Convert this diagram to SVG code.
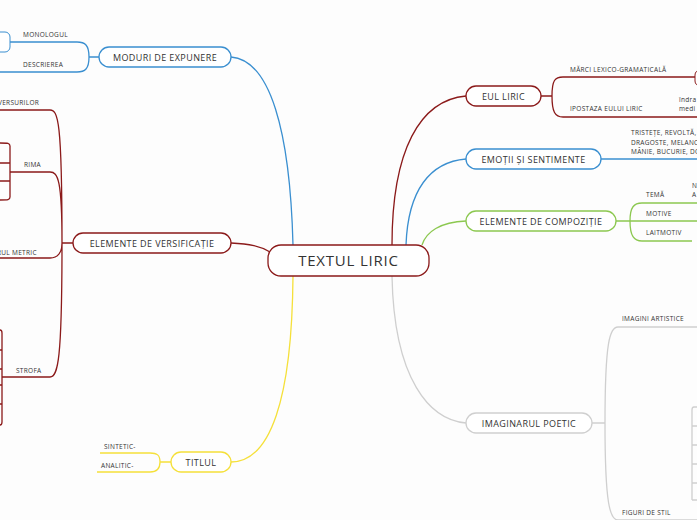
<svg xmlns="http://www.w3.org/2000/svg" width="697" height="520" viewBox="0 0 697 520">
<style>
text{font-family:"Open Sans","Noto Sans",sans-serif;fill:#333}
.m{font-size:9px;letter-spacing:0.4px}
.s{font-size:6.5px;letter-spacing:0.3px}
.c{font-size:15px;letter-spacing:0.8px}
.n{fill:#fff;stroke-width:1.3}
path{fill:none;stroke-width:1.3}
.b{stroke:#3a8fd0}.r{stroke:#8b1a1a}.y{stroke:#f5e03a}.g{stroke:#8cc850}.k{stroke:#cfcfcf}
</style>
<rect width="697" height="520" fill="#fdfdfd"/>
<g id="connectors">
<path class="b" d="M293,245 C290,130 270,60 231,57"/>
<path class="r" d="M270,252 C260,246 250,244 231,243"/>
<path class="y" d="M293,276 C292,400 270,462 231,462"/>
<path class="r" d="M392,245 C392,150 420,100 466,96"/>
<path class="b" d="M406,245 C408,190 430,162 466,159"/>
<path class="g" d="M422,245 C426,232 440,222 466,221"/>
<path class="k" d="M392,276 C394,380 430,420 466,423"/>
<!-- moduri -->
<path class="b" d="M99,57 H89 M89,57 C89,45 85,42 77,42 H10 M89,57 C89,69 85,72 77,72 H0"/>
<rect class="b" x="-10" y="32" width="20" height="20" rx="5" fill="#fff"/>
<!-- versificatie -->
<path class="r" d="M73,243 H62 M62,243 C62,120 58,110 50,110 H0 M62,243 C62,180 58,172 50,172 H10 M62,243 C62,252 58,258 50,258 H0 M62,243 C62,360 58,377 50,377 H2"/>
<path class="r" d="M10,172 V146 C10,143 8,143 0,143 M10,163 H0 M10,172 V197 C10,200 8,200 0,200 M10,181 H0"/>
<path class="r" d="M2,377 V333 C2,330 1,330 0,330 M2,377 V422 C2,425 1,425 0,425 M0,350 H2 M0,369 H2 M0,385 H2 M0,404 H2"/>
<!-- titlul -->
<path class="y" d="M171,462 H160 M160,462 C160,455 157,453 150,453 H100 M160,462 C160,469 157,472 150,472 H97"/>
<!-- eul liric -->
<path class="r" d="M541,96 H552 M552,96 C552,80 555,77 563,77 H695 M552,96 C552,112 555,117 563,117 H697"/>
<rect class="r" x="695" y="70" width="20" height="16" rx="5" fill="#fff"/>
<path class="b" d="M601,159 H697"/>
<!-- compozitie -->
<path class="g" d="M616,221 H630 M630,221 C630,207 634,203 642,203 H697 M630,221 H697 M630,221 C630,236 634,241 642,241 H692"/>
<!-- imaginar -->
<path class="k" d="M592,423 H605 M605,423 C605,340 610,327 618,327 H697 M605,423 C605,505 610,520 618,520 H697"/>
<path class="k" d="M697,407 H694 C693,407 692,408 692,410 V500 M692,426 H697 M692,445 H697 M692,464 H697 M692,483 H697 M692,500 H697"/>
</g>
<g id="center"><rect class="n" x="268" y="245" width="161" height="31" rx="13" stroke="#8b1a1a" stroke-width="2"/><text class="c" x="348.5" y="266" text-anchor="middle">TEXTUL LIRIC</text></g>
<g id="moduri"><rect class="n b" x="99" y="47" width="132" height="20" rx="10"/><text class="m" x="165" y="60.5" text-anchor="middle">MODURI DE EXPUNERE</text>
<text class="s" x="23" y="37">MONOLOGUL</text><text class="s" x="23" y="67">DESCRIEREA</text></g>
<g id="versificatie"><rect class="n r" x="73" y="233" width="158" height="20" rx="10"/><text class="m" x="152" y="246.5" text-anchor="middle">ELEMENTE DE VERSIFICAȚIE</text>
<text class="s" x="-2" y="105">VERSURILOR</text><text class="s" x="24" y="167">RIMA</text><text class="s" x="-3" y="255">RUL METRIC</text><text class="s" x="16" y="373">STROFA</text></g>
<g id="titlul"><rect class="n y" x="171" y="452" width="60" height="20" rx="10"/><text class="m" x="201" y="465.5" text-anchor="middle">TITLUL</text>
<text class="s" x="104" y="449">SINTETIC-</text><text class="s" x="101" y="468">ANALITIC-</text></g>
<g id="eul"><rect class="n r" x="466" y="86" width="75" height="20" rx="10"/><text class="m" x="503.5" y="99.5" text-anchor="middle">EUL LIRIC</text>
<text class="s" x="570" y="72">MĂRCI LEXICO-GRAMATICALĂ</text><text class="s" x="570" y="111">IPOSTAZA EULUI LIRIC</text>
<text class="s" x="679" y="102">îndra</text><text class="s" x="679" y="111">medi</text></g>
<g id="emotii"><rect class="n b" x="466" y="149" width="135" height="20" rx="10"/><text class="m" x="533.5" y="162.5" text-anchor="middle">EMOȚII ȘI SENTIMENTE</text>
<text class="s" x="631" y="135">TRISTEȚE, REVOLTĂ,</text><text class="s" x="631" y="144.5">DRAGOSTE, MELANCOLIE,</text><text class="s" x="631" y="154">MÂNIE, BUCURIE, DOR</text></g>
<g id="compozitie"><rect class="n g" x="466" y="211" width="150" height="20" rx="10"/><text class="m" x="541" y="224.5" text-anchor="middle">ELEMENTE DE COMPOZIȚIE</text>
<text class="s" x="646" y="197">TEMĂ</text><text class="s" x="692" y="188">N</text><text class="s" x="692" y="197">A</text>
<text class="s" x="646" y="216">MOTIVE</text><text class="s" x="646" y="235">LAITMOTIV</text></g>
<g id="imaginar"><rect class="n k" x="466" y="413" width="126" height="20" rx="10"/><text class="m" x="529" y="426.5" text-anchor="middle">IMAGINARUL POETIC</text>
<text class="s" x="622" y="321">IMAGINI ARTISTICE</text><text class="s" x="622" y="515">FIGURI DE STIL</text></g>
</svg>
